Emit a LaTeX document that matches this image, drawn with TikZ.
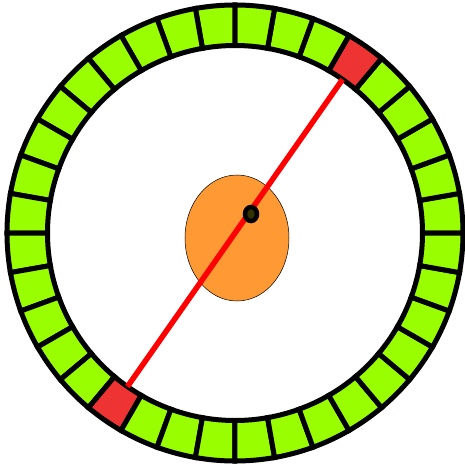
\documentclass[tikz,border=0pt]{standalone}
\usepackage{xcolor}
\usepackage{tikz}
\usetikzlibrary{shapes.geometric}
\definecolor{cellgreen}{RGB}{153,255,0}
\definecolor{cellred}{RGB}{238,51,51}
\definecolor{hubfill}{RGB}{255,153,51}
\definecolor{pinfill}{RGB}{51,51,0}

\begin{document}
\begin{tikzpicture}[
   cell/.style={draw=black, line width=5pt, fill=cellgreen},
   hot/.style={cell, fill=cellred},
   hub/.style={ellipse, draw=black, line width=0.5pt, fill=hubfill,
               minimum width=104pt, minimum height=126pt, inner sep=0pt},
   pin/.style={ellipse, draw=black, line width=4.5pt, fill=pinfill,
               minimum width=12pt, minimum height=14pt, inner sep=0pt},
   beam/.style={draw=red, line width=5.5pt}]
  \useasboundingbox (-235pt,-233pt) rectangle (230pt,233pt);

  % ring of 36 cells
  \foreach \a in {0,10,...,350}{
    \pgfmathsetmacro{\b}{\a+10}
    \ifnum\a=50 \def\kind{hot}\else\ifnum\a=230 \def\kind{hot}\else\def\kind{cell}\fi\fi
    \path[\kind] (\a:187.5pt) -- (\a:228pt)
      arc[start angle=\a, end angle=\b, radius=228pt] -- (\b:187.5pt)
      arc[start angle=\b, end angle=\a, radius=187.5pt] -- cycle;
  }

  \node[hub] (hub) at (2pt,-5pt) {};
  \coordinate (tipA) at (55:187.5pt);
  \coordinate (tipB) at (235:187.5pt);
  \draw[beam] (tipA) -- (tipB);
  \node[pin] (pin) at (16pt,19pt) {};
\end{tikzpicture}
\end{document}
